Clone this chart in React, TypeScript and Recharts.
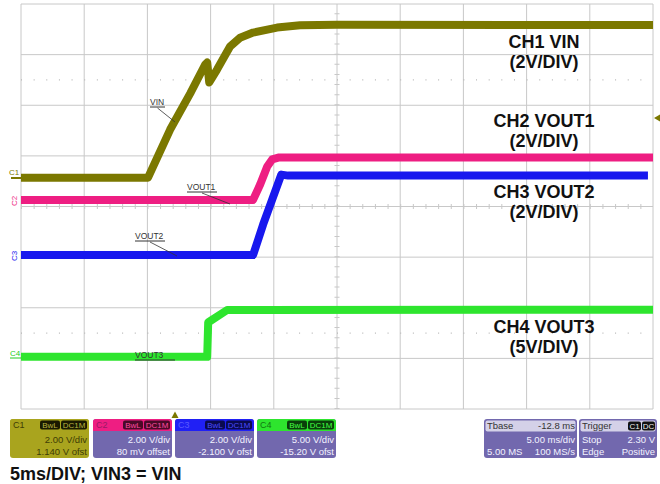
import { ComposedChart, Line, XAxis, YAxis, CartesianGrid, ReferenceLine } from "recharts";

// ── screen: 10 div x 5 ms, trigger at t=0, centre at +12.8 ms ──
const timeTicks = [-12.2, -7.2, -2.2, 2.8, 7.8, 12.8, 17.8, 22.8, 27.8, 32.8, 37.8];
const divTicks = [0, 1, 2, 3, 4, 5, 6, 7, 8];

// channel settings (V/div, offset V) as shown in the scope badges
const chanScale = { c1: 2, c2: 2, c3: 2, c4: 5 };
const chanOffset = { c1: 1.14, c2: 0.08, c3: -2.1, c4: -15.2 };

// CH1 VIN
const vinTime = [-12.2, -2.15, -0.4, 1.18, 2.37, 2.53, 2.69, 3.31, 4.34, 5.13, 6.16, 8.06, 9.88, 12.8, 37.8];
const vinVolts = [0, 0, 1.9, 3.32, 4.47, 4.55, 3.76, 4.27, 5.18, 5.53, 5.73, 5.93, 6.02, 6.04, 6.03];

// CH2 VOUT1
const vout1Time = [-12.2, 6.16, 6.72, 7.28, 7.67, 8.23, 37.8];
const vout1Volts = [0.18, 0.18, 0.79, 1.5, 1.78, 1.86, 1.86];

// CH3 VOUT2
const vout2Time = [-12.2, 6.16, 6.95, 7.67, 8.39, 8.94, 37.4];
const vout2Volts = [0.18, 0.18, 1.38, 2.37, 3.36, 3.32, 3.32];

// CH4 VOUT3
const vout3Time = [-12.2, 2.53, 2.61, 2.85, 4.11, 37.8];
const vout3Volts = [0.35, 0.35, 3.75, 3.95, 4.98, 5.0];

const pts = (ts: number[], vs: number[]) => ts.map((t, i) => ({ t, v: vs[i] }));
const dom = (k: keyof typeof chanScale): [number, number] => [
  -4 * chanScale[k] - chanOffset[k],
  4 * chanScale[k] - chanOffset[k],
];
// graticule rows expressed on the CH1 axis (volts)
const c1Lo = dom("c1")[0];
const atDiv = (d: number) => c1Lo + d * chanScale.c1;
const gridRows = divTicks.map(atDiv);

const OLIVE = "#7b7800";
const PINK = "#ee1e82";
const BLUE = "#1818ee";
const GREEN = "#2ee52e";
const PURPLE = "#7268ae";
const FONT = "'Liberation Sans', Arial, sans-serif";

function Badge({ x, y, w, text, fill, color }: { x: number; y: number; w: number; text: string; fill: string; color: string }) {
  return (
    <g>
      <rect x={x} y={y} width={w} height={9} rx={2} fill={fill} />
      <text x={x + w / 2} y={y + 7.5} fontSize={8} fill={color} textAnchor="middle">{text}</text>
    </g>
  );
}

function ChanBox({ x, name, head, headText, badgeFill, badgeText, body, bodyText, l1, l2 }: {
  x: number; name: string; head: string; headText: string; badgeFill: string; badgeText: string;
  body: string; bodyText: string; l1: string; l2: string;
}) {
  const y = 419, w = 79;
  return (
    <g>
      <rect x={x} y={y} width={w} height={39} rx={3} fill={body} />
      <path d={`M${x} ${y + 12} V${y + 3} Q${x} ${y} ${x + 3} ${y} H${x + w - 3} Q${x + w} ${y} ${x + w} ${y + 3} V${y + 12} Z`} fill={head} />
      <text x={x + 3} y={y + 9} fontSize={9} fill={headText}>{name}</text>
      <Badge x={x + 30} y={y + 1.5} w={20} text="BwL" fill={badgeFill} color={badgeText} />
      <Badge x={x + 51} y={y + 1.5} w={26} text="DC1M" fill={badgeFill} color={badgeText} />
      <text x={x + w - 2} y={y + 24} fontSize={9.5} fill={bodyText} textAnchor="end">{l1}</text>
      <text x={x + w - 2} y={y + 36} fontSize={9.5} fill={bodyText} textAnchor="end">{l2}</text>
    </g>
  );
}

function Note({ x, y, text, uw, px, py }: { x: number; y: number; text: string; uw: number; px?: number; py?: number }) {
  return (
    <g>
      <text x={x} y={y} fontSize={8.5} fill="#333">{text}</text>
      <line x1={x} y1={y + 2} x2={x + uw} y2={y + 2} stroke="#333" strokeWidth={1} />
      {px !== undefined && <line x1={x + uw / 2} y1={y + 3} x2={px} y2={py} stroke="#333" strokeWidth={0.8} />}
    </g>
  );
}

export default function App() {
  return (
    <div style={{ position: "absolute", left: 0, top: 0, width: 660, height: 484, background: "#fff", fontFamily: FONT }}>
      <ComposedChart width={660} height={484} margin={{ top: 4, right: 7, bottom: 75, left: 21 }}>
        <XAxis type="number" dataKey="t" domain={[-12.2, 37.8]} ticks={timeTicks} allowDataOverflow hide />
        <YAxis yAxisId="c1" type="number" domain={dom("c1")} ticks={gridRows} allowDataOverflow hide />
        <YAxis yAxisId="c2" type="number" domain={dom("c2")} allowDataOverflow hide />
        <YAxis yAxisId="c3" type="number" domain={dom("c3")} allowDataOverflow hide />
        <YAxis yAxisId="c4" type="number" domain={dom("c4")} allowDataOverflow hide />
        <CartesianGrid yAxisId="c1" stroke="#c8c8c8" strokeWidth={1} />
        {/* centre axes with minor ticks, dotted quarter lines */}
        <ReferenceLine yAxisId="c1" y={atDiv(4)} stroke="#c8c8c8" strokeWidth={5} strokeDasharray="1 11.64" />
        <ReferenceLine yAxisId="c1" x={12.8} stroke="#c8c8c8" strokeWidth={5} strokeDasharray="1 9.125" />
        <ReferenceLine yAxisId="c1" y={atDiv(6.5)} stroke="#b8b8b8" strokeWidth={1.2} strokeDasharray="1 11.64" />
        <ReferenceLine yAxisId="c1" y={atDiv(1.5)} stroke="#b8b8b8" strokeWidth={1.2} strokeDasharray="1 11.64" />

        <Line yAxisId="c1" data={pts(vinTime, vinVolts)} dataKey="v" type="linear" stroke={OLIVE} strokeWidth={8}
          strokeLinejoin="round" dot={false} isAnimationActive={false} />
        <Line yAxisId="c2" data={pts(vout1Time, vout1Volts)} dataKey="v" type="linear" stroke={PINK} strokeWidth={8}
          strokeLinejoin="round" dot={false} isAnimationActive={false} />
        <Line yAxisId="c3" data={pts(vout2Time, vout2Volts)} dataKey="v" type="linear" stroke={BLUE} strokeWidth={8}
          strokeLinejoin="round" dot={false} isAnimationActive={false} />
        <Line yAxisId="c4" data={pts(vout3Time, vout3Volts)} dataKey="v" type="linear" stroke={GREEN} strokeWidth={8}
          strokeLinejoin="round" dot={false} isAnimationActive={false} />
      </ComposedChart>

      <svg width={660} height={484} style={{ position: "absolute", left: 0, top: 0, pointerEvents: "none", fontFamily: FONT }}>
        {/* channel ground markers */}
        <text x={9} y={175} fontSize={8} fill={OLIVE}>C1</text>
        <line x1={11} y1={178} x2={21} y2={178} stroke={OLIVE} strokeWidth={2} />
        <text x={0} y={0} fontSize={8} fill={PINK} transform="translate(17 206) rotate(-90)">C2</text>
        <text x={0} y={0} fontSize={8} fill={BLUE} transform="translate(17 261) rotate(-90)">C3</text>
        <text x={10} y={356} fontSize={8} fill="#22cc22">C4</text>
        <line x1={10} y1={358} x2={21} y2={358} stroke="#22cc22" strokeWidth={1} />

        {/* trigger markers */}
        <polygon points="654,118 660,114.5 660,121.5" fill={OLIVE} />
        <polygon points="171.5,418 178.5,418 175,411.5" fill={OLIVE} />

        {/* trace notes */}
        <Note x={150} y={105} text="VIN" uw={15} px={175} py={122} />
        <Note x={187} y={190} text="VOUT1" uw={30} px={230} py={204} />
        <Note x={135} y={239} text="VOUT2" uw={30} px={177} py={256} />
        <Note x={135} y={358} text="VOUT3" uw={40} />

        {/* channel captions */}
        <g fontSize={18} fontWeight="bold" fill="#111" textAnchor="middle">
          <text x={544} y={48}>CH1 VIN</text>
          <text x={544} y={68}>(2V/DIV)</text>
          <text x={544} y={127}>CH2 VOUT1</text>
          <text x={544} y={147}>(2V/DIV)</text>
          <text x={544} y={198}>CH3 VOUT2</text>
          <text x={544} y={218}>(2V/DIV)</text>
          <text x={544} y={333}>CH4 VOUT3</text>
          <text x={544} y={353}>(5V/DIV)</text>
        </g>

        {/* status boxes */}
        <ChanBox x={10} name="C1" head="#a9a41e" headText="#3e3c05" badgeFill="#1a1a00" badgeText="#b8b440"
          body="#a9a41e" bodyText="#3e3c05" l1="2.00 V/div" l2="1.140 V ofst" />
        <ChanBox x={93} name="C2" head={PINK} headText="#9a1a66" badgeFill="#4a0a28" badgeText="#ff4aa0"
          body={PURPLE} bodyText="#f2f2ff" l1="2.00 V/div" l2="80 mV offset" />
        <ChanBox x={175} name="C3" head="#2020f5" headText="#5a5aff" badgeFill="#0a0a50" badgeText="#4a4aff"
          body={PURPLE} bodyText="#f2f2ff" l1="2.00 V/div" l2="-2.100 V ofst" />
        <ChanBox x={257} name="C4" head="#2ee52e" headText="#117711" badgeFill="#0a400a" badgeText="#44ff44"
          body={PURPLE} bodyText="#f2f2ff" l1="5.00 V/div" l2="-15.20 V ofst" />

        <g fontSize={9.5}>
          <rect x={484} y={419} width={93} height={39} rx={3} fill={PURPLE} />
          <rect x={485.5} y={420.5} width={90} height={11} rx={2} fill="#d4d1e8" />
          <text x={487} y={429} fill="#333">Tbase</text>
          <text x={575} y={429} fill="#333" textAnchor="end">-12.8 ms</text>
          <text x={575} y={443} fill="#f2f2ff" textAnchor="end">5.00 ms/div</text>
          <text x={487} y={455} fill="#f2f2ff">5.00 MS</text>
          <text x={575} y={455} fill="#f2f2ff" textAnchor="end">100 MS/s</text>

          <rect x={579} y={419} width={78} height={39} rx={3} fill={PURPLE} />
          <rect x={580.5} y={420.5} width={75} height={11} rx={2} fill="#d4d1e8" />
          <text x={582} y={429} fill="#333">Trigger</text>
          <Badge x={628} y={421.5} w={13} text="C1" fill="#111" color="#eee" />
          <Badge x={642} y={421.5} w={13} text="DC" fill="#111" color="#eee" />
          <text x={582} y={443} fill="#f2f2ff">Stop</text>
          <text x={655} y={443} fill="#f2f2ff" textAnchor="end">2.30 V</text>
          <text x={582} y={455} fill="#f2f2ff">Edge</text>
          <text x={655} y={455} fill="#f2f2ff" textAnchor="end">Positive</text>
        </g>

        <text x={10} y={480} fontSize={18} fontWeight="bold" fill="#111">5ms/DIV; VIN3 = VIN</text>
      </svg>
    </div>
  );
}
